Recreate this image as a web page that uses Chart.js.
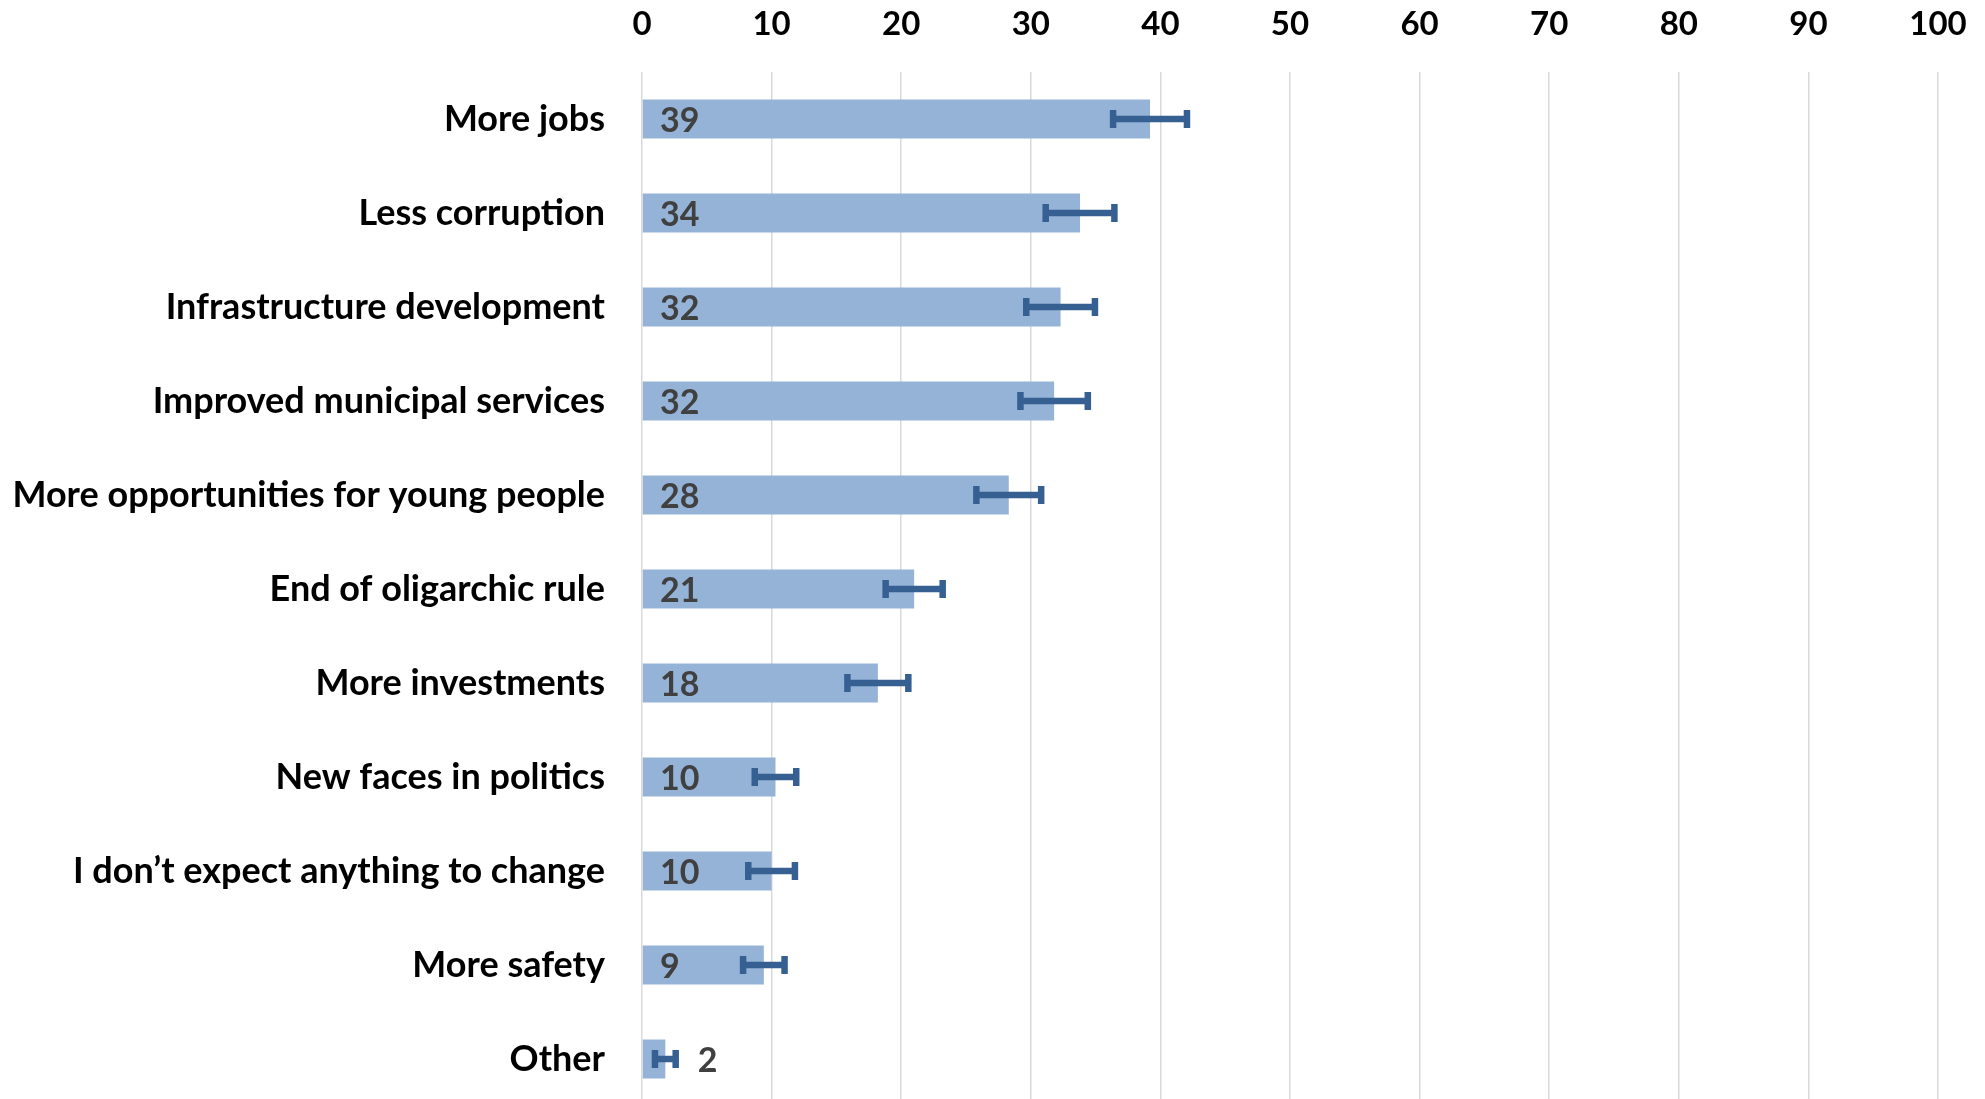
<!DOCTYPE html>
<html>
<head>
<meta charset="utf-8">
<script src="https://cdn.jsdelivr.net/npm/chart.js@4.4.1/dist/chart.umd.min.js"></script>
<style>
  html, body { margin: 0; padding: 0; background: #fff; overflow: hidden; }
  canvas { display: block; }
</style>
</head>
<body>
<canvas id="chart" width="1985" height="1110"></canvas>
<script>
// categories, top to bottom
const categories = [
  "More jobs",
  "Less corruption",
  "Infrastructure development",
  "Improved municipal services",
  "More opportunities for young people",
  "End of oligarchic rule",
  "More investments",
  "New faces in politics",
  "I don\u2019t expect anything to change",
  "More safety",
  "Other"
];

// share of respondents, %
const values = [39.2, 33.8, 32.3, 31.8, 28.3, 21.0, 18.2, 10.3, 10.0, 9.4, 1.8];

// error bar half-width, %
const errMargin = [2.85, 2.65, 2.65, 2.6, 2.5, 2.2, 2.35, 1.6, 1.8, 1.6, 0.8];

// axis ticks
const xTicks = [0, 10, 20, 30, 40, 50, 60, 70, 80, 90, 100];

const FONT = "Lato";
const labelFont = "bold 34px " + FONT;

// error bars + value labels
const overlayPlugin = {
  id: "overlay",
  afterDatasetsDraw(chart) {
    const ctx = chart.ctx;
    const xs = chart.scales.x;
    const meta = chart.getDatasetMeta(0);
    ctx.save();

    // error bars
    ctx.strokeStyle = "#376092";
    ctx.lineWidth = 6.5;
    meta.data.forEach((bar, i) => {
      const y = bar.y;
      const x1 = xs.getPixelForValue(values[i] - errMargin[i]);
      const x2 = xs.getPixelForValue(values[i] + errMargin[i]);
      ctx.beginPath();
      ctx.moveTo(x1, y);
      ctx.lineTo(x2, y);
      ctx.moveTo(x1, y - 9);
      ctx.lineTo(x1, y + 9);
      ctx.moveTo(x2, y - 9);
      ctx.lineTo(x2, y + 9);
      ctx.stroke();
    });

    // value labels
    ctx.font = labelFont;
    ctx.fillStyle = "#404040";
    ctx.textAlign = "left";
    ctx.textBaseline = "middle";
    meta.data.forEach((bar, i) => {
      const txt = String(Math.round(values[i]));
      const base = xs.getPixelForValue(0);
      let x = base + 18;
      if (x + ctx.measureText(txt).width > bar.x) {
        x = xs.getPixelForValue(values[i] + errMargin[i]) + 22;
      }
      ctx.fillText(txt, x, bar.y + 2);
    });
    ctx.restore();
  }
};

new Chart(document.getElementById("chart"), {
  type: "bar",
  data: {
    labels: categories,
    datasets: [
      {
        data: values,
        backgroundColor: "#95B3D7",
        borderWidth: 0,
        categoryPercentage: 1,
        barPercentage: 0.415
      }
    ]
  },
  options: {
    indexAxis: "y",
    responsive: false,
    animation: false,
    layout: { padding: { left: 0, right: 47, top: 0, bottom: 4 } },
    plugins: {
      legend: { display: false },
      tooltip: { enabled: false }
    },
    scales: {
      x: {
        position: "top",
        min: 0,
        max: 100,
        afterBuildTicks: (s) => { s.ticks = xTicks.map((v) => ({ value: v })); },
        afterFit: (s) => {
          s.height = 72;
          s.paddingLeft = 0;
          s.paddingRight = 0;
        },
        ticks: {
          color: "#000",
          font: { family: FONT, size: 33, weight: "bold" },
          padding: 28,
          maxRotation: 0
        },
        grid: { color: "#D9D9D9", lineWidth: 1.5, drawTicks: false },
        border: { display: false }
      },
      y: {
        afterFit: (s) => {
          s.width = 642;
          s.paddingTop = 0;
          s.paddingBottom = 0;
        },
        ticks: {
          color: "#000",
          font: { family: FONT, size: 36, weight: "bold" },
          padding: 37
        },
        grid: { display: false, drawTicks: false },
        border: { display: false }
      }
    }
  },
  plugins: [overlayPlugin]
});
</script>
</body>
</html>
